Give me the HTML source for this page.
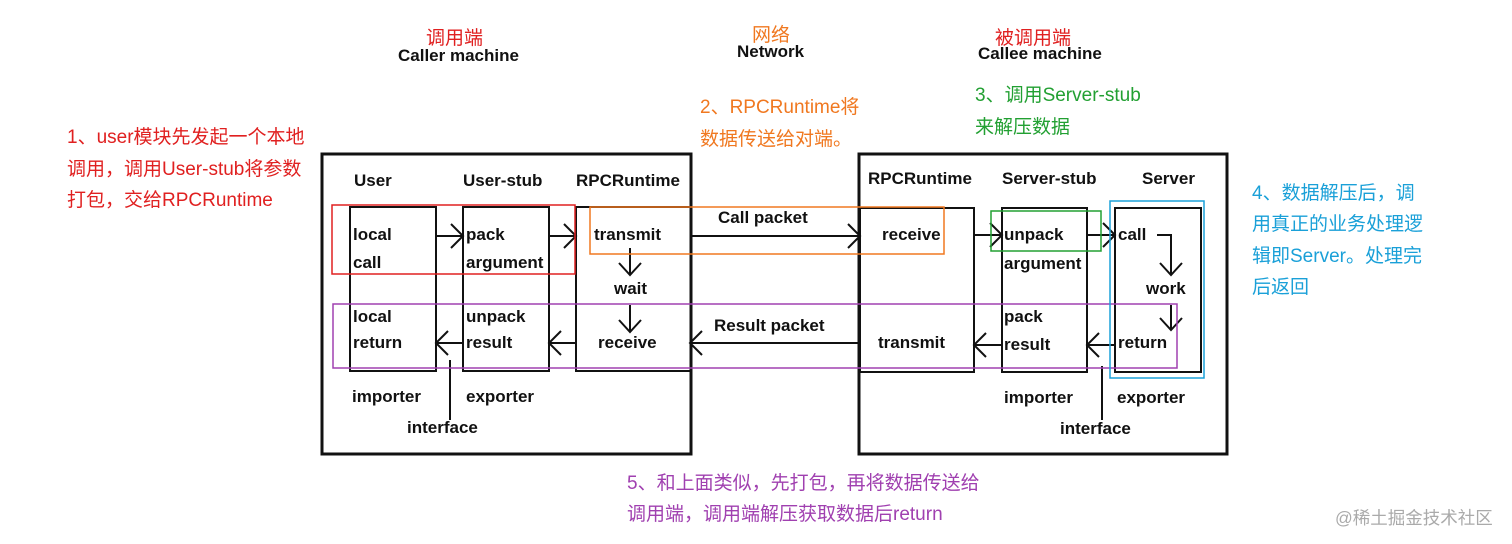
<!DOCTYPE html>
<html><head><meta charset="utf-8"><style>
html,body{margin:0;padding:0;background:#fff;}
svg{display:block}
.t{font-family:"Liberation Sans",Arial,sans-serif;font-size:17px;font-weight:bold;fill:#111;}
.c{font-family:"Liberation Sans","Noto Sans CJK SC",sans-serif;font-size:19px;}
</style></head><body>
<svg width="1512" height="544" viewBox="0 0 1512 544" xmlns="http://www.w3.org/2000/svg">
<rect width="1512" height="544" fill="#fff"/>
<text class="c" x="426" y="44" fill="#e02020" font-size="18">调用端</text>
<text class="t" x="398" y="61">Caller machine</text>
<text class="c" x="752" y="41" fill="#f07820" font-size="18">网络</text>
<text class="t" x="737" y="57">Network</text>
<text class="c" x="995" y="44" fill="#e02020" font-size="18">被调用端</text>
<text class="t" x="978" y="59">Callee machine</text>
<g class="c">
<text x="67" y="143" fill="#e02020">1、user模块先发起一个本地</text>
<text x="67" y="175" fill="#e02020">调用，调用User-stub将参数</text>
<text x="67" y="206" fill="#e02020">打包，交给RPCRuntime</text>
<text x="700" y="113" fill="#f07820">2、RPCRuntime将</text>
<text x="700" y="145" fill="#f07820">数据传送给对端。</text>
<text x="975" y="101" fill="#22a032">3、调用Server-stub</text>
<text x="975" y="133" fill="#22a032">来解压数据</text>
<text x="1252" y="199" fill="#1aa0d8">4、数据解压后，调</text>
<text x="1252" y="230" fill="#1aa0d8">用真正的业务处理逻</text>
<text x="1252" y="262" fill="#1aa0d8">辑即Server。处理完</text>
<text x="1252" y="293" fill="#1aa0d8">后返回</text>
<text x="627" y="489" fill="#a040b0">5、和上面类似，先打包，再将数据传送给</text>
<text x="627" y="520" fill="#a040b0">调用端，调用端解压获取数据后return</text>
<text x="1335" y="524" fill="#aaa" font-size="17.5">@稀土掘金技术社区</text>
</g>
<g fill="none" stroke="#111">
<rect x="322" y="154" width="369" height="300" stroke-width="3"/>
<rect x="859" y="154" width="368" height="300" stroke-width="3"/>
<g stroke-width="2">
<rect x="350" y="207" width="86" height="164"/>
<rect x="463" y="207" width="86" height="164"/>
<rect x="576" y="207" width="115" height="164"/>
<rect x="860" y="208" width="114" height="164"/>
<rect x="1002" y="208" width="85" height="164"/>
<rect x="1115" y="208" width="86" height="164"/>
<path d="M436 236H463M451 224L463 236L451 248"/>
<path d="M549 236H576M564 224L576 236L564 248"/>
<path d="M630 248V275M619 263L630 275L641 263"/>
<path d="M630 305V332M619 320L630 332L641 320"/>
<path d="M576 343H549M561 331L549 343L561 355"/>
<path d="M463 343H436M448 331L436 343L448 355"/>
<path d="M450 360V420"/>
<path d="M692 236H860M848 224L860 236L848 248"/>
<path d="M860 343H690M702 331L690 343L702 355"/>
<path d="M974 235H1002M990 223L1002 235L990 247"/>
<path d="M1087 235H1115M1103 223L1115 235L1103 247"/>
<path d="M1157 235H1171V275M1160 263L1171 275L1182 263"/>
<path d="M1171 305V330M1160 318L1171 330L1182 318"/>
<path d="M1115 345H1087M1099 333L1087 345L1099 357"/>
<path d="M1002 345H974M986 333L974 345L986 357"/>
<path d="M1102 366V420"/>
</g>
</g>
<g fill="none" stroke-width="1.5">
<rect x="332" y="205" width="243" height="69" stroke="#e02020"/>
<rect x="590" y="207" width="354" height="47" stroke="#f07820"/>
<rect x="333" y="304" width="844" height="64" stroke="#a040b0"/>
<rect x="991" y="211" width="110" height="40" stroke="#22a032"/>
<rect x="1110" y="201" width="94" height="177" stroke="#1aa0d8"/>
</g>
<g class="t">
<text x="354" y="186">User</text>
<text x="463" y="186">User-stub</text>
<text x="576" y="186">RPCRuntime</text>
<text x="353" y="240">local</text>
<text x="353" y="268">call</text>
<text x="466" y="240">pack</text>
<text x="466" y="268">argument</text>
<text x="594" y="240">transmit</text>
<text x="614" y="294">wait</text>
<text x="353" y="322">local</text>
<text x="353" y="348">return</text>
<text x="466" y="322">unpack</text>
<text x="466" y="348">result</text>
<text x="598" y="348">receive</text>
<text x="352" y="402">importer</text>
<text x="466" y="402">exporter</text>
<text x="407" y="433">interface</text>
<text x="718" y="223">Call packet</text>
<text x="714" y="331">Result packet</text>
<text x="868" y="184">RPCRuntime</text>
<text x="1002" y="184">Server-stub</text>
<text x="1142" y="184">Server</text>
<text x="882" y="240">receive</text>
<text x="1004" y="240">unpack</text>
<text x="1004" y="269">argument</text>
<text x="1118" y="240">call</text>
<text x="1146" y="294">work</text>
<text x="1004" y="322">pack</text>
<text x="1004" y="350">result</text>
<text x="1118" y="348">return</text>
<text x="878" y="348">transmit</text>
<text x="1004" y="403">importer</text>
<text x="1117" y="403">exporter</text>
<text x="1060" y="434">interface</text>
</g>
</svg>
</body></html>
